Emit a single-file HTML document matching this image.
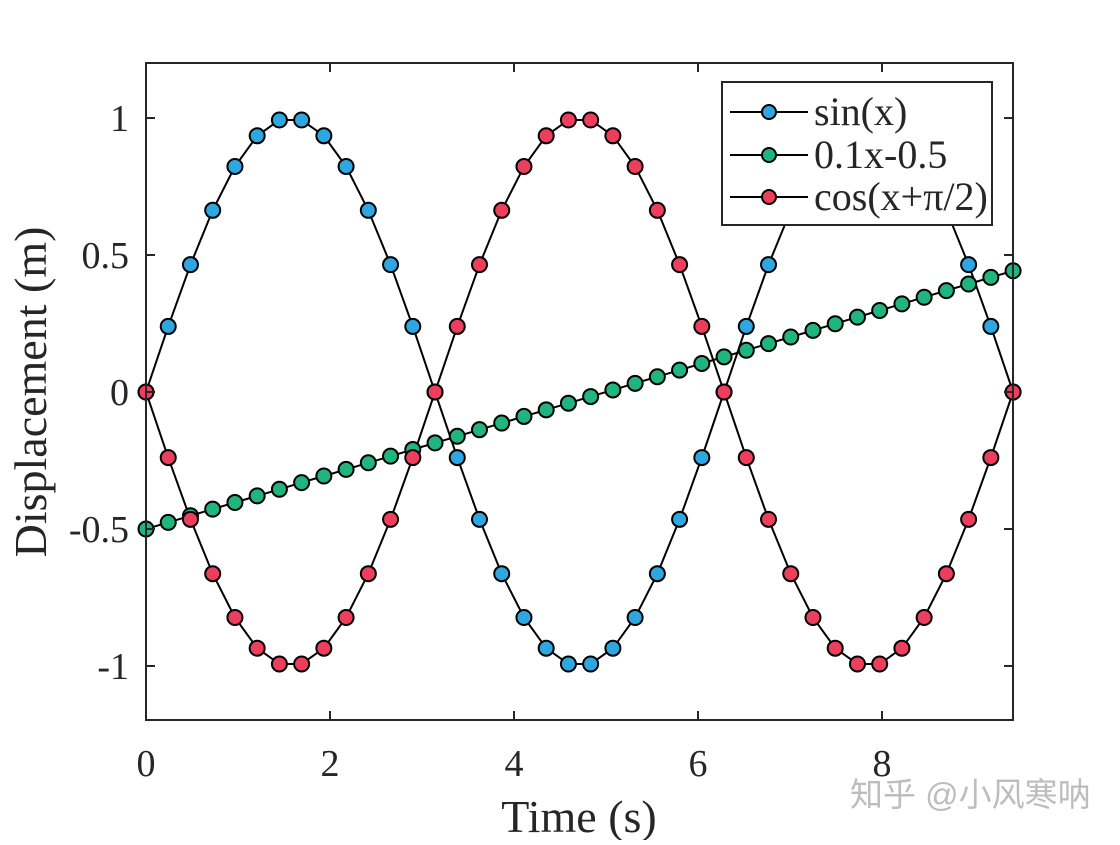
<!DOCTYPE html>
<html><head><meta charset="utf-8"><style>
body{margin:0;background:#fff;}
svg text{font-family:"Liberation Serif",serif;fill:#262626;}
</style></head><body>
<svg id="s" width="1120" height="840" xmlns="http://www.w3.org/2000/svg">
<rect width="1120" height="840" fill="#fff"/>
<g id="plot"></g>
<rect x="146" y="63" width="867" height="657" fill="none" stroke="#262626" stroke-width="2"/>
<g stroke="#262626" stroke-width="2">
<path d="M146,720v-9M330,720v-9M514,720v-9M698,720v-9M882,720v-9M146,63v9M330,63v9M514,63v9M698,63v9M882,63v9"/>
<path d="M146,118h9M146,255h9M146,392h9M146,529h9M146,666h9M1013,118h-9M1013,255h-9M1013,392h-9M1013,529h-9M1013,666h-9"/>
</g>
<g font-size="38" text-anchor="end">
<text x="129" y="131">1</text>
<text x="129" y="268">0.5</text>
<text x="129" y="405">0</text>
<text x="129" y="542">-0.5</text>
<text x="129" y="679">-1</text>
</g>
<g font-size="38" text-anchor="middle">
<text x="146" y="776">0</text>
<text x="330" y="776">2</text>
<text x="514" y="776">4</text>
<text x="698" y="776">6</text>
<text x="882" y="776">8</text>
<text x="579" y="832" font-size="46">Time (s)</text>
<text transform="translate(46,392) rotate(-90)" font-size="46">Displacement (m)</text>
</g>
<text x="850" y="806" font-size="33" style="fill:#bdbdbd;font-family:'Liberation Sans','Noto Sans CJK SC',sans-serif">知乎 @小风寒呐</text>
<rect x="722" y="82" width="270" height="143" fill="#fff" stroke="#262626" stroke-width="2"/>
<g stroke="#000" stroke-width="2">
<path d="M730,112h78M730,155h78M730,197h78"/>
<circle cx="769" cy="112" r="7" fill="#2ea6e0"/>
<circle cx="769" cy="155" r="7" fill="#20b47f"/>
<circle cx="769" cy="197" r="7" fill="#ee3e5e"/>
</g>
<g font-size="40">
<text x="814" y="125">sin(x)</text>
<text x="814" y="168">0.1x-0.5</text>
<text x="814" y="210">cos(x+π/2)</text>
</g>
</svg>
<script>
var g=document.getElementById('plot'),ns='http://www.w3.org/2000/svg';
function X(x){return 146+x*92.0;}function Y(y){return 392-y*274;}
var fs=[[function(x){return Math.sin(x)},'#2ea6e0'],[function(x){return 0.1*x-0.5},'#20b47f'],[function(x){return -Math.sin(x)},'#ee3e5e']];
var N=40,L=3*Math.PI;
fs.forEach(function(f){var d='';for(var i=0;i<N;i++){var x=L*i/(N-1);d+=(i?'L':'M')+X(x).toFixed(1)+','+Y(f[0](x)).toFixed(1);}
var p=document.createElementNS(ns,'path');p.setAttribute('d',d);p.setAttribute('fill','none');p.setAttribute('stroke','#000');p.setAttribute('stroke-width','2');g.appendChild(p);});
fs.forEach(function(f){for(var i=0;i<N;i++){var x=L*i/(N-1);var c=document.createElementNS(ns,'circle');c.setAttribute('cx',X(x));c.setAttribute('cy',Y(f[0](x)));c.setAttribute('r','7.5');c.setAttribute('fill',f[1]);c.setAttribute('stroke','#000');c.setAttribute('stroke-width','2');g.appendChild(c);}});
</script>
</body></html>
